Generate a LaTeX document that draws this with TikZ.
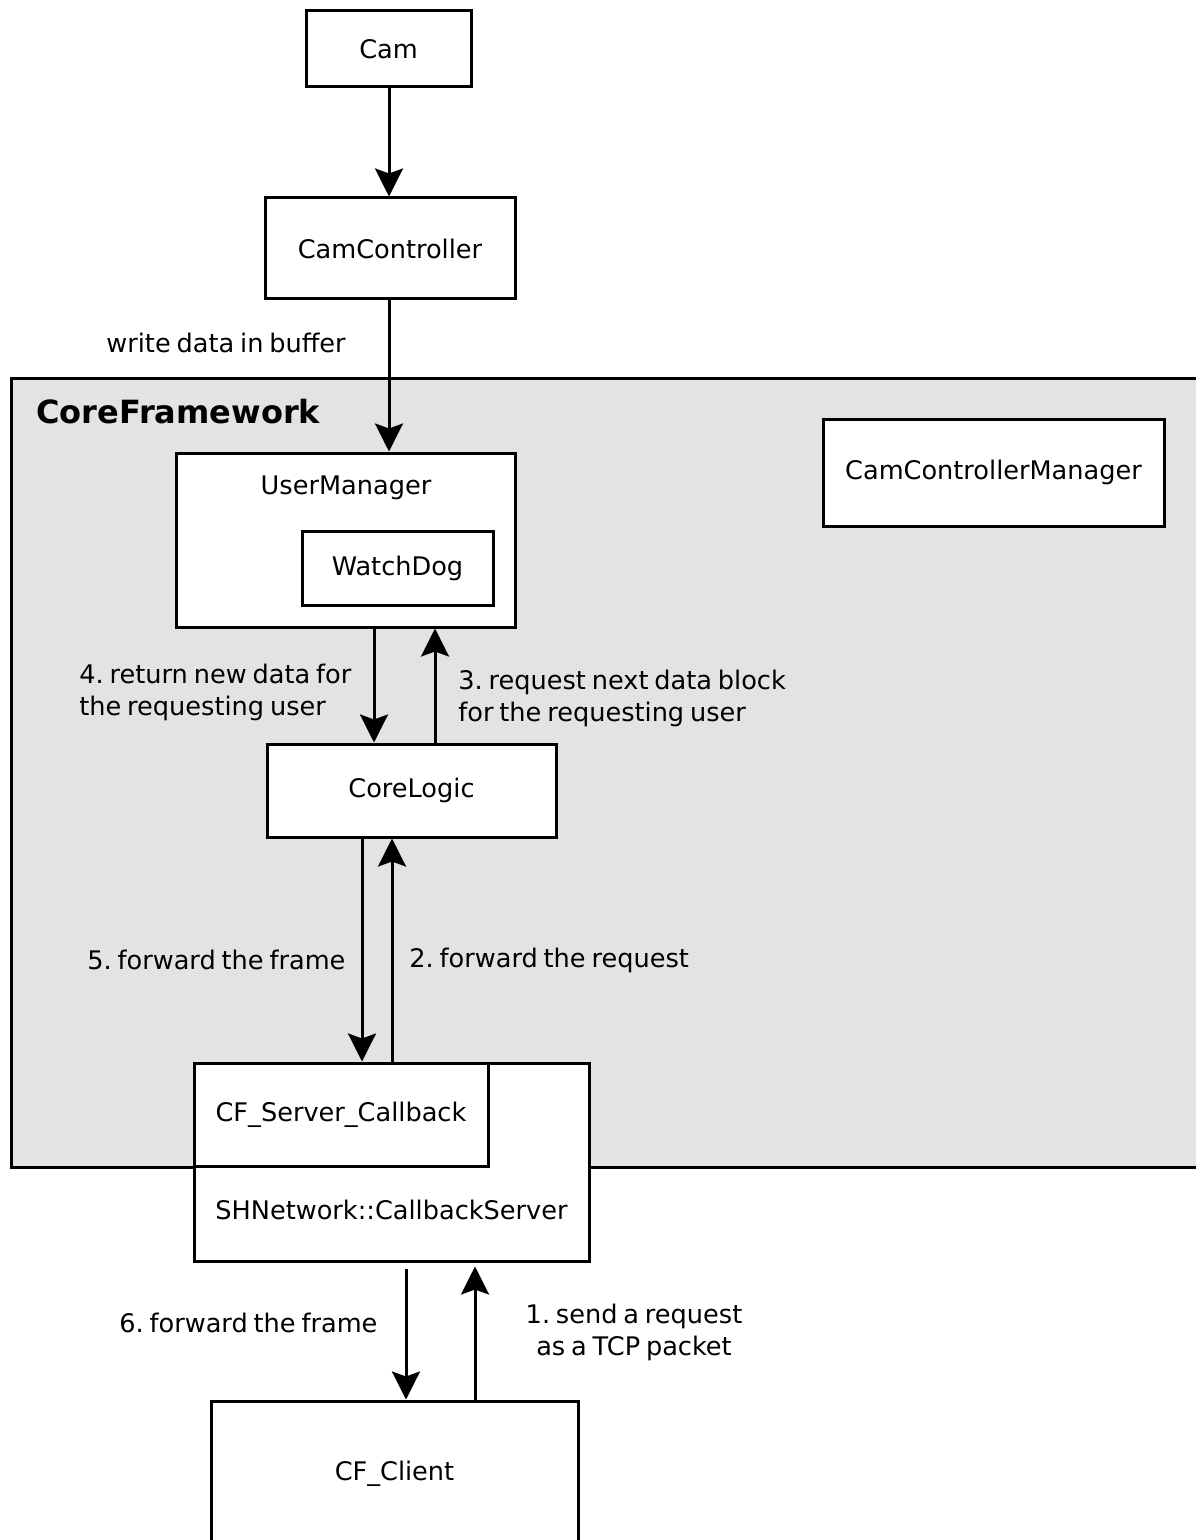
\documentclass[tikz,border=0pt]{standalone}
\usepackage{fontspec}
\setmainfont[WordSpace=0.72]{DejaVu Sans}
\usetikzlibrary{arrows.meta}
\frenchspacing
\begin{document}
\begin{tikzpicture}[x=0.5pt,y=-0.5pt,
  box/.style={draw=black,line width=1.5pt,fill=white,rectangle,inner sep=0pt},
  frame/.style={draw=black,line width=1.5pt,fill=gray!22,rectangle,inner sep=0pt},
  txt/.style={inner sep=0pt,font=\fontsize{12.8}{16}\selectfont},
  lbl/.style={inner sep=0pt,anchor=west,align=left,font=\fontsize{12.8}{16}\selectfont},
  arr/.style={line width=1.5pt,-{Stealth[length=14pt,width=14pt,inset=2.5pt]}}]
\useasboundingbox (0,0) rectangle (1195,1540);

% outer framework container
\node[frame,minimum width=597pt,minimum height=394.5pt] (cf) at (608,772.5) {};
\node[lbl,font=\fontsize{16}{19}\selectfont\bfseries] (cftitle) at (36,412) {CoreFramework};

% top chain
\node[box,minimum width=82.5pt,minimum height=38pt,txt] (cam) at (388.5,49) {Cam};
\node[box,minimum width=125pt,minimum height=50.5pt,txt] (camctrl) at (390,248.5) {CamController};

% boxes inside the framework
\node[box,minimum width=169.5pt,minimum height=87pt] (um) at (345.5,540) {};
\node[txt] (umtext) at (346,488) {UserManager};
\node[box,minimum width=95.5pt,minimum height=37pt,txt] (wd) at (397.5,568) {WatchDog};
\node[box,minimum width=170.5pt,minimum height=53.5pt,txt] (ccm) at (993.5,472.5) {CamControllerManager};
\node[box,minimum width=144.5pt,minimum height=46.5pt,txt] (cl) at (411.5,790.5) {CoreLogic};

% network server with the embedded callback
\node[box,minimum width=197.5pt,minimum height=99pt] (sh) at (391.5,1162) {};
\node[txt] (shtext) at (391.5,1210) {SHNetwork::CallbackServer};
\node[box,minimum width=147pt,minimum height=51.5pt,txt] (cb) at (341,1114.5) {CF\_Server\_Callback};

% client
\node[box,minimum width=183.5pt,minimum height=89pt,txt] (client) at (394.5,1490) {};
\node[txt] (clienttext) at (394.5,1474) {CF\_Client};

% arrow columns
\coordinate (xa) at (389,0);
\coordinate (x4) at (374,0);
\coordinate (x3) at (435,0);
\coordinate (x5) at (362,0);
\coordinate (x2) at (392,0);
\coordinate (x6) at (406,0);
\coordinate (x1) at (475,0);

% connectors
\draw[arr] (cam.south -| xa) -- (camctrl.north -| xa);
\draw[arr] (camctrl.south -| xa) -- (um.north -| xa);
\draw[arr] (um.south -| x4) -- (cl.north -| x4);
\draw[arr] (cl.north -| x3) -- (um.south -| x3);
\draw[arr] (cl.south -| x5) -- (sh.north -| x5);
\draw[arr] (sh.north -| x2) -- (cl.south -| x2);
\draw[arr,shorten <=3pt] (sh.south -| x6) -- (client.north -| x6);
\draw[arr,shorten >=2pt] (client.north -| x1) -- (sh.south -| x1);

% connector labels
\node[lbl] (lw) at (106,343) {write data in buffer};
\node[lbl] (l4) at (79,692) {4. return new data for\\the requesting user};
\node[lbl] (l3) at (458,698) {3. request next data block\\for the requesting user};
\node[lbl] (l5) at (87,960) {5. forward the frame};
\node[lbl] (l2) at (409,960) {2. forward the request};
\node[lbl] (l6) at (119,1323) {6. forward the frame};
\node[txt,align=center] (l1) at (634,1332) {1. send a request\\as a TCP packet};
\end{tikzpicture}
\end{document}
